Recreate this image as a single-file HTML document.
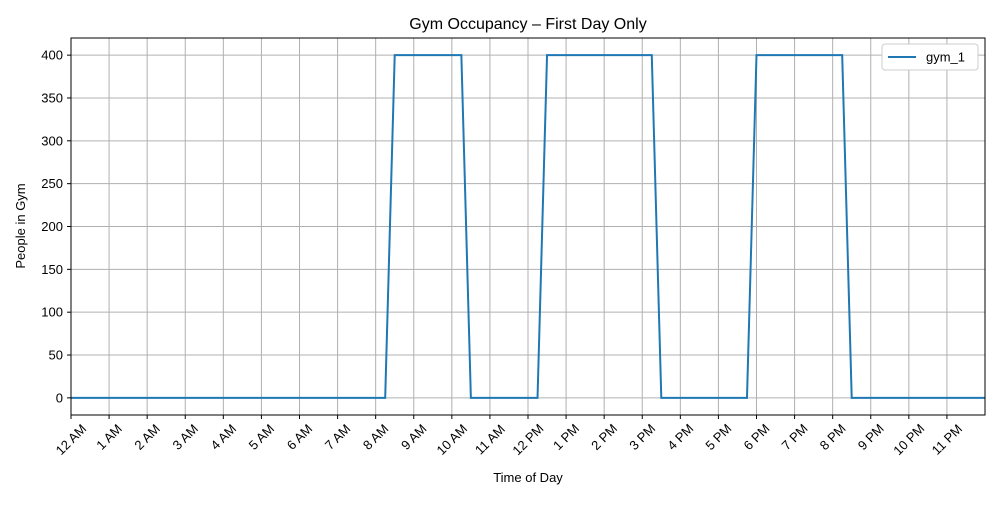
<!DOCTYPE html>
<html><head><meta charset="utf-8"><style>
body{margin:0;background:#fff;font-family:"Liberation Sans",sans-serif}
svg text{font-family:"Liberation Sans",sans-serif;fill:#000}
</style></head><body>
<svg id="chart" width="1000" height="500" xmlns="http://www.w3.org/2000/svg">
<rect width="1000" height="500" fill="#fff"/>
<text x="528" y="29" font-size="16" text-anchor="middle">Gym Occupancy – First Day Only</text>
<g id="grid"></g>
<g id="axes"></g>
<g id="series"></g>
<rect x="71" y="38" width="914" height="377" fill="none" stroke="#000" stroke-width="1"/>
<text x="528" y="482" font-size="13" text-anchor="middle">Time of Day</text>
<text transform="translate(25,226) rotate(-90)" font-size="13" text-anchor="middle">People in Gym</text>
<g>
<rect x="882" y="44" width="96" height="26" rx="3" fill="#fff" stroke="#ccc"/>
<line x1="888" y1="57" x2="916" y2="57" stroke="#1f77b4" stroke-width="2"/>
<text x="926" y="61.5" font-size="13">gym_1</text>
</g>
</svg>
<script>
const times=[0,8.25,8.5,10.25,10.5,12.25,12.5,15.25,15.5,17.75,18,20.25,20.5,24];
const occupancy=[0,0,400,400,0,0,400,400,0,0,400,400,0,0];
const xTickLabels=["12 AM","1 AM","2 AM","3 AM","4 AM","5 AM","6 AM","7 AM","8 AM","9 AM","10 AM","11 AM","12 PM","1 PM","2 PM","3 PM","4 PM","5 PM","6 PM","7 PM","8 PM","9 PM","10 PM","11 PM"];
const yTicks=[0,50,100,150,200,250,300,350,400];
const NS="http://www.w3.org/2000/svg";
const L=71,R=985,T=38,B=415;
const xs=h=>L+(h/24)*(R-L);
const ys=v=>B-(v+20)/440*(B-T);
function mk(tag,attrs,parent){const e=document.createElementNS(NS,tag);for(const k in attrs)e.setAttribute(k,attrs[k]);parent.appendChild(e);return e;}
const grid=document.getElementById('grid'),axes=document.getElementById('axes'),series=document.getElementById('series');
xTickLabels.forEach((lab,i)=>{
  const x=xs(i);
  const g=mk('line',{x1:x,x2:x,y1:T,y2:B,stroke:'#b0b0b0','stroke-width':1},grid);
  
  
  mk('line',{x1:x,x2:x,y1:B,y2:B+4,stroke:'#000'},axes);
  const w=lab.length*7.3;
  const cy=B+7+(w+13)*0.3536;
  const t=mk('text',{x:0,y:4.5,'font-size':13,'text-anchor':'middle',transform:`translate(${x},${cy}) rotate(-45)`},axes);
  t.textContent=lab;
  
  
});
yTicks.forEach(v=>{
  const y=ys(v);
  const g=mk('line',{x1:L,x2:R,y1:y,y2:y,stroke:'#b0b0b0','stroke-width':1},grid);
  
  
  mk('line',{x1:L-4,x2:L,y1:y,y2:y,stroke:'#000'},axes);
  const t=mk('text',{x:L-8,y:y+4.5,'font-size':13,'text-anchor':'end'},axes);
  t.textContent=v;
  
  
});
const pts=times.map((h,i)=>xs(h)+','+ys(occupancy[i])).join(' ');
const line=mk('polyline',{points:pts,fill:'none',stroke:'#1f77b4','stroke-width':2},series);


</script>
</body></html>
